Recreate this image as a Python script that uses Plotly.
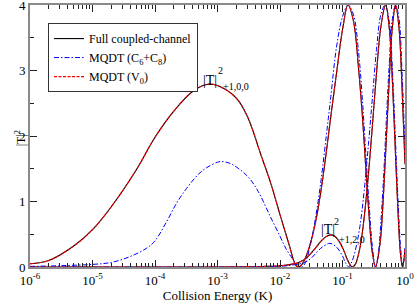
import plotly.graph_objects as go

# ---------------- data ----------------
# Full coupled-channel, |T|^2 (+1,0,0)
E_cc_100 = [1e-6, 2e-6, 5e-6, 1e-5, 2e-5, 5e-5, 1e-4, 2e-4, 4e-4, 7e-4, 1e-3, 2e-3, 3e-3, 5e-3,
            7e-3, 1e-2, 1.4e-2, 1.7e-2, 1.9e-2, 2.2e-2, 2.5e-2, 3e-2, 3.7e-2, 4.5e-2, 5.5e-2,
            6.5e-2, 8e-2, 1e-1, 1.225e-1, 1.5e-1, 1.8e-1, 2.1e-1, 2.4e-1, 2.7e-1, 3e-1, 3.38e-1,
            4e-1, 4.5e-1, 5e-1, 5.6e-1, 6.2e-1, 7.08e-1, 8e-1, 9e-1, 1.0]
T_cc_100 = [0.05, 0.10, 0.32, 0.57, 0.92, 1.48, 1.98, 2.38, 2.68, 2.79, 2.77, 2.58, 2.30, 1.70,
            1.30, 0.80, 0.34, 0.07, 0.0, 0.03, 0.12, 0.33, 0.68, 1.15, 1.75,
            2.30, 2.95, 3.62, 4.0, 3.75, 3.05, 2.25, 1.40, 0.70, 0.22, 0.0,
            0.37, 1.06, 1.91, 2.86, 3.60, 4.0, 3.66, 2.70, 1.57]

# Full coupled-channel, |T|^2 (+1,2,0)
E_cc_120 = [1e-6, 1e-4, 1e-3, 3e-3, 6e-3, 1e-2, 1.5e-2, 2e-2, 2.5e-2, 3e-2, 3.7e-2, 4.5e-2,
            5.4e-2, 6.5e-2, 7.5e-2, 9e-2, 1.05e-1, 1.2e-1, 1.35e-1, 1.43e-1, 1.6e-1, 1.9e-1,
            2.2e-1, 2.6e-1, 3e-1, 3.5e-1, 4.1e-1, 4.89e-1, 5.6e-1, 6.3e-1, 7e-1, 7.8e-1,
            8.5e-1, 9.16e-1, 1.0]
T_cc_120 = [0.0, 0.0, 0.0, 0.003, 0.01, 0.02, 0.04, 0.07, 0.12, 0.19, 0.29, 0.39,
            0.46, 0.49, 0.47, 0.38, 0.25, 0.11, 0.02, 0.0, 0.04, 0.29,
            0.72, 1.42, 2.14, 2.96, 3.66, 4.0, 3.65, 2.82, 1.78, 0.76,
            0.18, 0.0, 0.27]

# MQDT (V0): practically identical to the full coupled-channel result
E_v0_100 = list(E_cc_100)
T_v0_100 = [0.05, 0.10, 0.32, 0.57, 0.92, 1.48, 1.98, 2.38, 2.68, 2.79, 2.77, 2.58, 2.30, 1.70,
            1.30, 0.80, 0.34, 0.07, 0.0, 0.03, 0.12, 0.33, 0.68, 1.15, 1.75,
            2.30, 2.95, 3.62, 4.0, 3.75, 3.05, 2.25, 1.40, 0.70, 0.22, 0.0,
            0.37, 1.06, 1.91, 2.86, 3.60, 4.0, 3.66, 2.70, 1.57]
E_v0_120 = list(E_cc_120)
T_v0_120 = [0.0, 0.0, 0.0, 0.003, 0.01, 0.02, 0.04, 0.07, 0.12, 0.19, 0.29, 0.39,
            0.46, 0.49, 0.47, 0.38, 0.25, 0.11, 0.02, 0.0, 0.04, 0.29,
            0.72, 1.42, 2.14, 2.96, 3.66, 4.0, 3.65, 2.82, 1.78, 0.76,
            0.18, 0.0, 0.27]

# MQDT (C6+C8)
E_c68_100 = [1e-6, 3e-6, 1e-5, 2e-5, 4e-5, 7.4e-5, 1e-4, 1.55e-4, 2.2e-4, 3.2e-4, 5e-4, 6.8e-4,
             1e-3, 1.17e-3, 1.6e-3, 2.2e-3, 3.2e-3, 4.5e-3, 7e-3, 1e-2, 1.23e-2, 1.6e-2, 1.9e-2,
             2.2e-2, 2.5e-2, 3e-2, 3.7e-2, 4.5e-2, 5.5e-2, 6.5e-2, 8e-2, 1e-1, 1.225e-1, 1.5e-1,
             1.8e-1, 2.1e-1, 2.4e-1, 2.7e-1, 3e-1, 3.38e-1, 3.8e-1, 4e-1, 4.5e-1, 5e-1, 5.6e-1,
             6.2e-1, 7.08e-1, 8e-1, 9e-1, 1.0]
T_c68_100 = [0.01, 0.02, 0.04, 0.07, 0.16, 0.29, 0.40, 0.70, 0.97, 1.20, 1.42, 1.52,
             1.60, 1.61, 1.58, 1.50, 1.36, 1.15, 0.77, 0.47, 0.29, 0.12, 0.03,
             0.0, 0.05, 0.30, 0.75, 1.30, 2.00, 2.60, 3.35, 3.82, 4.0, 3.85,
             3.30, 2.50, 1.62, 0.88, 0.32, 0.0, 0.26, 0.52, 1.30, 2.20, 3.10,
             3.75, 4.0, 3.80, 2.95, 1.80]
E_c68_120 = [1e-6, 1e-3, 5e-3, 1e-2, 1.6e-2, 2.5e-2, 3.2e-2, 4e-2, 5e-2, 6.3e-2, 7.9e-2, 1e-1,
             1.12e-1, 1.26e-1, 1.41e-1, 1.6e-1, 1.9e-1, 2.2e-1, 2.6e-1, 3e-1, 3.5e-1, 4.1e-1,
             4.79e-1, 5.6e-1, 6.3e-1, 7e-1, 7.8e-1, 8.5e-1, 9.16e-1, 1.0]
T_c68_120 = [0.0, 0.0, 0.003, 0.01, 0.03, 0.07, 0.14, 0.24, 0.32, 0.36, 0.31, 0.17,
             0.06, 0.0, 0.08, 0.25, 0.62, 1.12, 1.87, 2.57, 3.32, 3.85,
             4.0, 3.75, 3.0, 2.0, 0.95, 0.3, 0.0, 0.3]

x_tick_vals = [1e-6, 1e-5, 1e-4, 1e-3, 1e-2, 1e-1, 1.0]
x_tick_text = ["10<sup>-6</sup>", "10<sup>-5</sup>", "10<sup>-4</sup>", "10<sup>-3</sup>",
               "10<sup>-2</sup>", "10<sup>-1</sup>", "10<sup>0</sup>"]
y_tick_vals = [0, 1, 2, 3, 4]

FONT = "Liberation Serif, Times New Roman, serif"

minor_x = [m * 10.0 ** d for d in range(-6, 0) for m in range(2, 10)]

fig = go.Figure()

line_cc = dict(color="#000000", width=1.1, shape="spline", smoothing=1.0)
line_c68 = dict(color="#0000ff", width=1.0, dash="5px,2px,1.5px,2px", shape="spline", smoothing=1.0)
line_v0 = dict(color="#ff0000", width=1.1, dash="3px,1.5px", shape="spline", smoothing=1.0)

fig.add_trace(go.Scatter(x=E_cc_100, y=T_cc_100, mode="lines", line=line_cc,
                         name="Full coupled-channel", legendgroup="cc"))
fig.add_trace(go.Scatter(x=E_cc_120, y=T_cc_120, mode="lines", line=line_cc,
                         name="Full coupled-channel", legendgroup="cc", showlegend=False))
fig.add_trace(go.Scatter(x=E_c68_100, y=T_c68_100, mode="lines", line=line_c68,
                         name="MQDT (C<sub>6</sub>+C<sub>8</sub>)", legendgroup="c68"))
fig.add_trace(go.Scatter(x=E_c68_120, y=T_c68_120, mode="lines", line=line_c68,
                         name="MQDT (C6+C8)", legendgroup="c68", showlegend=False))
fig.add_trace(go.Scatter(x=E_v0_100, y=T_v0_100, mode="lines", line=line_v0,
                         name="MQDT (V<sub>0</sub>)", legendgroup="v0"))
fig.add_trace(go.Scatter(x=E_v0_120, y=T_v0_120, mode="lines", line=line_v0,
                         name="MQDT (V0)", legendgroup="v0", showlegend=False))

axis_common = dict(
    ticks="inside", tickcolor="#222", tickwidth=1,
    showline=True, linecolor="#8a8a8a", linewidth=2, mirror="ticks",
    showgrid=False, zeroline=False, ticklabeloverflow="allow",
    tickfont=dict(family=FONT, size=13, color="#000"),
)

fig.update_xaxes(type="log", range=[-6, 0], tickvals=x_tick_vals, ticktext=x_tick_text,
                 ticklen=7,
                 minor=dict(tickvals=minor_x, ticks="inside", ticklen=4, tickcolor="#222",
                            showgrid=False),
                 title=dict(text="Collision Energy (K)", font=dict(family=FONT, size=13, color="#000"),
                            standoff=2),
                 **axis_common)
fig.update_yaxes(range=[0, 4], tickvals=y_tick_vals, ticklen=7,
                 minor=dict(dtick=0.5, ticks="inside", ticklen=4, tickcolor="#222", showgrid=False),
                 **axis_common)

ann_font_big = dict(family=FONT, size=14, color="#000")
ann_font_small = dict(family=FONT, size=10, color="#000")
fig.add_annotation(x=-3.115, y=2.85, text="|T|", showarrow=False, font=ann_font_big)
fig.add_annotation(x=-2.95, y=3.0, text="2", showarrow=False, font=ann_font_small)
fig.add_annotation(x=-2.70, y=2.75, text="+1,0,0", showarrow=False, font=ann_font_small)
fig.add_annotation(x=-1.232, y=0.58, text="|T|", showarrow=False, font=ann_font_big)
fig.add_annotation(x=-1.095, y=0.70, text="2", showarrow=False, font=ann_font_small)
fig.add_annotation(x=-0.85, y=0.42, text="+1,2,0", showarrow=False, font=ann_font_small)
# y-axis title
fig.add_annotation(xref="paper", yref="paper", x=-0.05, y=0.49, text="|T|<sup>2</sup>",
                   textangle=-90, showarrow=False, font=dict(family=FONT, size=12, color="#000"))

fig.update_layout(
    width=415, height=304,
    margin=dict(l=30, r=10, t=5, b=37, autoexpand=False),
    paper_bgcolor="white", plot_bgcolor="white",
    font=dict(family=FONT, size=13, color="#000"),
    legend=dict(x=0.048, y=0.931, xanchor="left", yanchor="top",
                bgcolor="white", bordercolor="#333", borderwidth=1,
                font=dict(family=FONT, size=12, color="#000"),
                tracegroupgap=0, itemwidth=30),
    showlegend=True,
)

fig.write_html("out.html", config={"displayModeBar": False},
               post_script="document.body.style.margin='0px';")
